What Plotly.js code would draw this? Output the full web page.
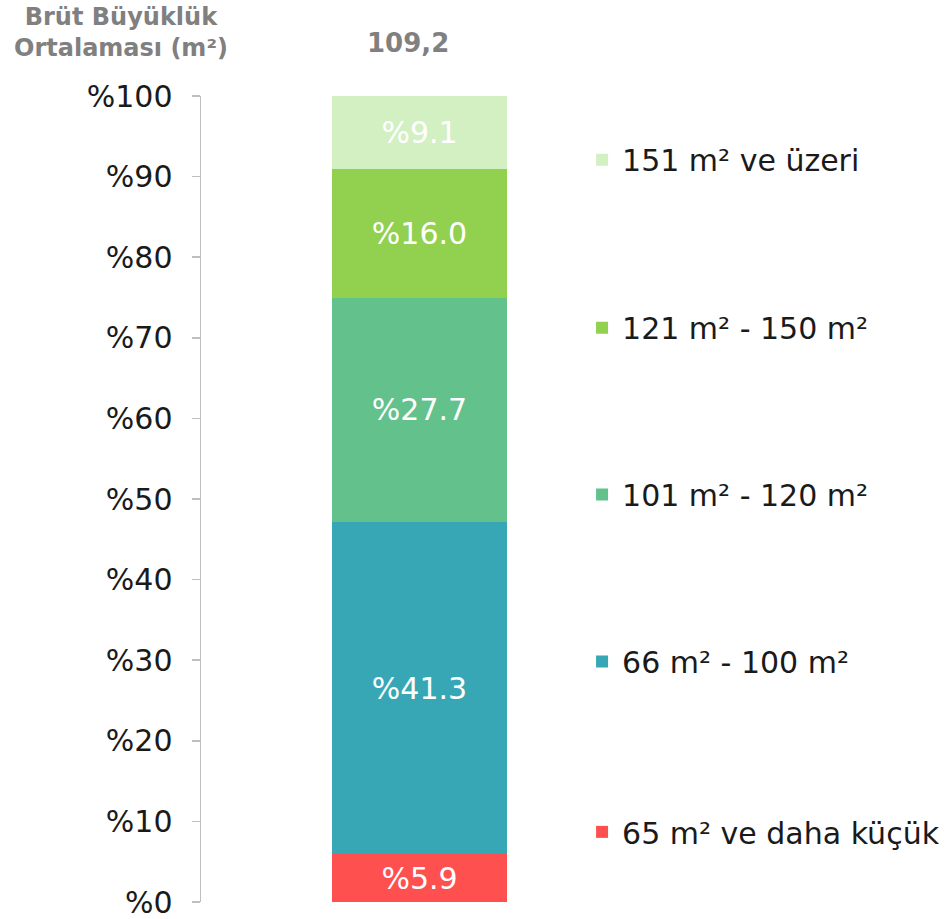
<!DOCTYPE html>
<html><head><meta charset="utf-8">
<script src="https://cdn.plot.ly/plotly-3.0.1.min.js"></script>
<style>html,body{margin:0;padding:0;background:#fff;}</style>
</head><body>
<div id="chart" style="width:945px;height:919px;"></div>
<script>
const category = ["Toplam"];
const seriesNames = ["65 m² ve daha küçük", "66 m² - 100 m²", "101 m² - 120 m²", "121 m² - 150 m²", "151 m² ve üzeri"];
const seriesValues = [5.9, 41.3, 27.7, 16.0, 9.1];
const seriesColors = ["#FF5050", "#37A7B5", "#63C18B", "#92D050", "#D3F0C2"];
const averageLabel = "109,2";
const headerLabel = "Brüt Büyüklük<br>Ortalaması (m²)";
const tickValues = [0, 10, 20, 30, 40, 50, 60, 70, 80, 90, 100];
const tickLabels = tickValues.map(v => "%" + v);

const font = "DejaVu Sans, Verdana, sans-serif";
const legendIds = ["legend5", "legend4", "legend3", "legend2", "legend"];
const legendY = [0.087, 0.2985, 0.5055, 0.7125, 0.921];

const traces = seriesNames.map((name, i) => ({
  type: "bar",
  name: name,
  x: category,
  y: [seriesValues[i]],
  marker: {color: seriesColors[i]},
  text: ["%" + seriesValues[i].toFixed(1)],
  textposition: "inside",
  insidetextanchor: "middle",
  constraintext: "none",
  textfont: {family: font, size: 30, color: "#ffffff"},
  hoverinfo: "none",
  legend: legendIds[i]
}));

const layout = {
  width: 945, height: 919,
  margin: {l: 201, r: 307, t: 96, b: 17, autoexpand: false},
  paper_bgcolor: "#fff", plot_bgcolor: "#fff",
  barmode: "stack",
  bargap: 0.6,
  showlegend: true,
  font: {family: font, color: "#1a1a1a"},
  xaxis: {showticklabels: false, showline: false, showgrid: false, zeroline: false, ticks: "", fixedrange: true},
  yaxis: {
    range: [0, 100], tickvals: tickValues, ticktext: tickLabels,
    ticks: "outside", ticklen: 8, tickcolor: "#bfbfbf", tickwidth: 1.5,
    showline: true, linecolor: "#bfbfbf", linewidth: 1.5,
    showgrid: false, zeroline: false,
    tickfont: {family: font, size: 30, color: "#1a1a1a"},
    ticklabelstandoff: 13,
    ticklabeloverflow: "allow"
  },
  annotations: [
    {text: headerLabel, xref: "paper", yref: "paper", x: -0.183, y: 1.079, xanchor: "center", yanchor: "middle",
     showarrow: false, font: {family: font, size: 24, color: "#808080", weight: "bold"}},
    {text: averageLabel, xref: "paper", yref: "paper", x: 0.474, y: 1.066, xanchor: "center", yanchor: "middle",
     showarrow: false, font: {family: font, size: 26, color: "#808080", weight: "bold"}}
  ]
};
legendIds.forEach((id, i) => {
  layout[id] = {x: 0.872, y: legendY[i], xanchor: "left", yanchor: "middle",
    font: {family: font, size: 30, color: "#1a1a1a"}, bgcolor: "rgba(0,0,0,0)", borderwidth: 0};
});

Plotly.newPlot("chart", traces, layout, {displayModeBar: false, staticPlot: true});
</script>
</body></html>
